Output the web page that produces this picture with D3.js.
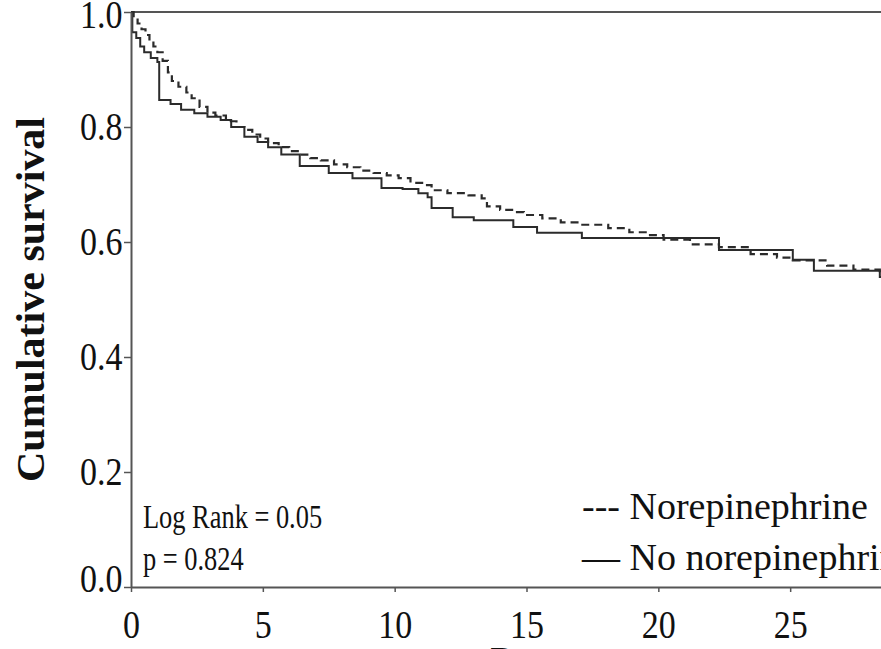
<!DOCTYPE html>
<html>
<head>
<meta charset="utf-8">
<script src="https://cdn.jsdelivr.net/npm/d3@7"></script>
<style>
  html, body { margin: 0; padding: 0; background: #fff; }
  svg { display: block; }
  text { font-family: "Liberation Serif", "Times New Roman", serif; fill: #111; }
</style>
</head>
<body>
<div id="chart"></div>
<script>
// Norepinephrine group (dashed)
var ne_days = [0, 0.1, 0.25, 0.4, 0.55, 0.7, 0.85, 1.0, 1.2, 1.4, 1.55, 1.8, 2.1, 2.3, 2.6, 2.9, 3.2, 3.6, 4.0, 4.3, 4.6, 4.9, 5.2, 5.6, 6.0, 6.4, 6.8, 7.2, 7.7, 8.2, 8.7, 9.2, 9.7, 10.15, 10.6, 11.1, 11.4, 12.0, 12.8, 13.3, 13.5, 14.0, 14.5, 14.9, 15.6, 16.3, 17.0, 18.1, 18.9, 19.6, 20.2, 21.2, 22.3, 23.5, 24.5, 25.1, 26.4, 27.4, 28.4, 29];
var ne_surv = [1.0, 0.99, 0.98, 0.97, 0.96, 0.95, 0.94, 0.93, 0.915, 0.895, 0.88, 0.87, 0.86, 0.85, 0.835, 0.825, 0.82, 0.81, 0.80, 0.795, 0.787, 0.78, 0.772, 0.765, 0.758, 0.752, 0.746, 0.742, 0.735, 0.73, 0.724, 0.72, 0.716, 0.711, 0.703, 0.699, 0.69, 0.685, 0.681, 0.676, 0.662, 0.656, 0.652, 0.647, 0.641, 0.634, 0.63, 0.624, 0.617, 0.612, 0.604, 0.596, 0.591, 0.579, 0.573, 0.568, 0.559, 0.552, 0.543, 0.543];

// No norepinephrine group (solid)
var no_days = [0, 0.05, 0.2, 0.35, 0.5, 0.75, 1.0, 1.07, 1.5, 1.9, 2.4, 2.9, 3.4, 3.8, 4.3, 4.8, 5.2, 5.7, 6.4, 7.5, 8.4, 9.5, 10.3, 10.9, 11.25, 11.4, 12.2, 13.0, 14.5, 15.4, 17.1, 22.3, 25.1, 25.9, 28.4, 29];
var no_surv = [1.0, 0.965, 0.955, 0.94, 0.93, 0.92, 0.913, 0.847, 0.84, 0.83, 0.824, 0.818, 0.812, 0.80, 0.783, 0.774, 0.765, 0.752, 0.732, 0.72, 0.711, 0.694, 0.692, 0.685, 0.678, 0.659, 0.643, 0.638, 0.626, 0.616, 0.607, 0.586, 0.569, 0.55, 0.539, 0.539];

var x_ticks = [0, 5, 10, 15, 20, 25, 30];
var y_ticks = [0, 0.2, 0.4, 0.6, 0.8, 1.0];
var legend_labels = ["--- Norepinephrine", "\u2014 No norepinephrine"];
var stat_labels = ["Log Rank = 0.05", "p = 0.824"];

var width = 881, height = 649;
var m_left = 131, m_right = 922, m_top = 12, m_bottom = 587;

var svg = d3.select("#chart")
    .append("svg")
    .attr("width", width)
    .attr("height", height);

var x = d3.scaleLinear().domain([0, 30]).range([m_left, m_right]);
var y = d3.scaleLinear().domain([0, 1]).range([m_bottom, m_top]);

svg.append("clipPath")
    .attr("id", "plot_clip")
    .append("rect")
    .attr("x", m_left).attr("y", m_top - 2)
    .attr("width", m_right - m_left).attr("height", m_bottom - m_top + 2);

// top frame line
svg.append("line")
    .attr("x1", m_left).attr("x2", width)
    .attr("y1", m_top).attr("y2", m_top)
    .attr("stroke", "#555").attr("stroke-width", 2);

var line = d3.line()
    .x(function(d) { return x(d[0]); })
    .y(function(d) { return y(d[1]); })
    .curve(d3.curveStepAfter);

var ne_pts = ne_days.map(function(d, i) { return [d, ne_surv[i]]; });
var no_pts = no_days.map(function(d, i) { return [d, no_surv[i]]; });

var plot = svg.append("g").attr("clip-path", "url(#plot_clip)");

plot.append("path")
    .attr("d", line(no_pts))
    .attr("fill", "none")
    .attr("stroke", "#2b2b2b")
    .attr("stroke-width", 2);

plot.append("path")
    .attr("d", line(ne_pts))
    .attr("fill", "none")
    .attr("stroke", "#2b2b2b")
    .attr("stroke-width", 2.2)
    .attr("stroke-dasharray", "8,5");

// axes
var y_axis = svg.append("g")
    .attr("transform", "translate(" + m_left + ",0)")
    .call(d3.axisLeft(y).tickValues(y_ticks).tickFormat(d3.format(".1f")).tickSize(7).tickSizeOuter(0));

var x_axis = svg.append("g")
    .attr("transform", "translate(0," + m_bottom + ")")
    .call(d3.axisBottom(x).tickValues(x_ticks).tickFormat(d3.format("d")).tickSize(5).tickSizeOuter(0));

[y_axis, x_axis].forEach(function(ax) {
    ax.select(".domain").attr("stroke", "#555").attr("stroke-width", 2);
    ax.selectAll(".tick line").attr("stroke", "#555").attr("stroke-width", 1.5);
    ax.selectAll("text")
        .style("font-family", "'Liberation Serif', serif")
        .style("font-size", "40px")
        .attr("fill", "#111")
        .attr("transform", "scale(0.85,1)");
});

// end labels sit a little inside the frame, as in the original
y_axis.selectAll("text")
    .attr("x", -10)
    .attr("y", function(d) { return d === 0 ? -8 : (d === 1 ? 3 : 0); });
x_axis.selectAll("text").attr("y", 23);

// axis titles
svg.append("text")
    .attr("transform", "translate(44," + (m_top + m_bottom) / 2 + ") rotate(-90) scale(1.05,1)")
    .attr("text-anchor", "middle")
    .style("font-size", "40px")
    .style("font-weight", "bold")
    .text("Cumulative survival");

svg.append("text")
    .attr("transform", "translate(" + (m_left + m_right) / 2 + ",674) scale(0.85,1)")
    .attr("text-anchor", "middle")
    .style("font-size", "40px")
    .style("font-weight", "bold")
    .text("Days");

// statistics text
svg.selectAll(".stat")
    .data(stat_labels)
    .enter().append("text")
    .attr("class", "stat")
    .attr("transform", function(d, i) { return "translate(143," + (528 + i * 42) + ") scale(0.8,1)"; })
    .style("font-size", "33px")
    .text(function(d) { return d; });

// legend
svg.selectAll(".legend")
    .data(legend_labels)
    .enter().append("text")
    .attr("class", "legend")
    .attr("x", 582)
    .attr("y", function(d, i) { return 519 + i * 51; })
    .style("font-size", "38px")
    .text(function(d) { return d; });
</script>
</body>
</html>
